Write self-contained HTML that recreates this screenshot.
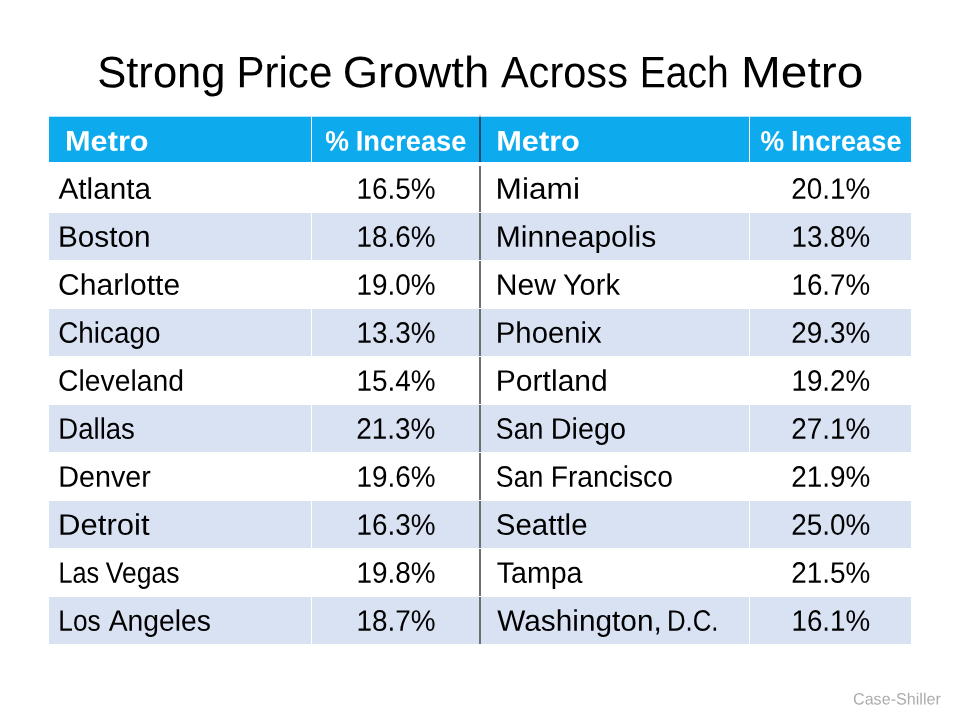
<!DOCTYPE html>
<html><head><meta charset="utf-8"><title>Strong Price Growth Across Each Metro</title>
<style>
html,body{margin:0;padding:0;background:#fff;}
body{width:960px;height:720px;position:relative;overflow:hidden;font-family:"Liberation Sans",sans-serif;}
.L{position:absolute;left:0;top:0;width:960px;height:720px;will-change:transform;}
.t{position:absolute;left:0;top:0;white-space:nowrap;transform-origin:0 0;display:block;text-rendering:geometricPrecision;}
.hd{position:absolute;left:49.0px;top:117.0px;width:862.0px;height:45.0px;background:#0eaaee;}
.r{position:absolute;left:49.0px;width:862.0px;height:47px;background:#d9e2f3;}
.vw{position:absolute;top:117.0px;width:1px;height:527.0px;background:#fff;}
.vd{position:absolute;left:479px;width:2px;background:#6e6e6e;}
.hw{position:absolute;left:49.0px;width:862.0px;height:1px;background:#fff;}
</style></head><body>
<div class="hd"></div>
<div style="position:absolute;left:49.0px;top:116px;width:862.0px;height:1px;background:#b7e6fa"></div>
<div class="r" style="top:213px"></div>
<div class="r" style="top:309px"></div>
<div class="r" style="top:405px"></div>
<div class="r" style="top:501px"></div>
<div class="r" style="top:597px"></div>
<div class="vw" style="left:311px"></div>
<div class="vw" style="left:749px"></div>
<div class="vd" style="top:115px;height:2px;background:#c4c4c4"></div>
<div class="vd" style="top:117px;height:45px;background:#084e6e"></div>
<div class="vd" style="top:166px;height:478px"></div>
<div class="hw" style="top:212px"></div>
<div class="hw" style="top:260px"></div>
<div class="hw" style="top:308px"></div>
<div class="hw" style="top:356px"></div>
<div class="hw" style="top:404px"></div>
<div class="hw" style="top:452px"></div>
<div class="hw" style="top:500px"></div>
<div class="hw" style="top:548px"></div>
<div class="hw" style="top:596px"></div>
<div class="L">
<span class="t" style="font-size:44.0px;line-height:44.0px;color:#000;transform:matrix(0.9905,.0006,0,1,97.19,51.25)">Strong</span>
<span class="t" style="font-size:44.0px;line-height:44.0px;color:#000;transform:matrix(0.9556,.0006,0,1,236.47,51.25)">Price</span>
<span class="t" style="font-size:44.0px;line-height:44.0px;color:#000;transform:matrix(1.0331,.0006,0,1,342.65,51.25)">Growth</span>
<span class="t" style="font-size:44.0px;line-height:44.0px;color:#000;transform:matrix(0.9447,.0006,0,1,500.89,51.25)">Across</span>
<span class="t" style="font-size:44.0px;line-height:44.0px;color:#000;transform:matrix(0.8879,.0006,0,1,639.69,51.25)">Each</span>
<span class="t" style="font-size:44.0px;line-height:44.0px;color:#000;transform:matrix(1.0881,.0006,0,1,740.99,51.25)">Metro</span>
<span class="t" style="font-size:28.2px;line-height:28.2px;font-weight:700;color:#fff;transform:matrix(1.0901,.0006,0,1,64.99,126.62)">Metro</span>
<span class="t" style="font-size:28.2px;line-height:28.2px;font-weight:700;color:#fff;transform:matrix(0.9466,.0006,0,1,325.35,126.62)">%</span>
<span class="t" style="font-size:28.2px;line-height:28.2px;font-weight:700;color:#fff;transform:matrix(0.9678,.0006,0,1,355.73,126.62)">Increase</span>
<span class="t" style="font-size:28.2px;line-height:28.2px;font-weight:700;color:#fff;transform:matrix(1.0921,.0006,0,1,496.13,126.62)">Metro</span>
<span class="t" style="font-size:28.2px;line-height:28.2px;font-weight:700;color:#fff;transform:matrix(0.9443,.0006,0,1,760.40,126.62)">%</span>
<span class="t" style="font-size:28.2px;line-height:28.2px;font-weight:700;color:#fff;transform:matrix(0.9671,.0006,0,1,790.90,126.62)">Increase</span>
<span class="t" style="font-size:29.6px;line-height:29.6px;color:#000;transform:matrix(1.0036,.0006,0,1,58.53,174.74)">Atlanta</span>
<span class="t" style="font-size:29.6px;line-height:29.6px;color:#000;transform:matrix(1.0056,.0006,0,1,57.96,222.75)">Boston</span>
<span class="t" style="font-size:29.6px;line-height:29.6px;color:#000;transform:matrix(1.0167,.0006,0,1,58.04,270.74)">Charlotte</span>
<span class="t" style="font-size:29.6px;line-height:29.6px;color:#000;transform:matrix(0.9425,.0006,0,1,58.15,318.75)">Chicago</span>
<span class="t" style="font-size:29.6px;line-height:29.6px;color:#000;transform:matrix(0.9574,.0006,0,1,58.09,366.74)">Cleveland</span>
<span class="t" style="font-size:29.6px;line-height:29.6px;color:#000;transform:matrix(0.9307,.0006,0,1,58.34,414.75)">Dallas</span>
<span class="t" style="font-size:29.6px;line-height:29.6px;color:#000;transform:matrix(0.9716,.0006,0,1,58.25,462.74)">Denver</span>
<span class="t" style="font-size:29.6px;line-height:29.6px;color:#000;transform:matrix(1.0505,.0006,0,1,58.01,510.75)">Detroit</span>
<span class="t" style="font-size:29.6px;line-height:29.6px;color:#000;transform:matrix(0.8526,.0006,0,1,58.40,558.74)">Las</span>
<span class="t" style="font-size:29.6px;line-height:29.6px;color:#000;transform:matrix(0.8965,.0006,0,1,105.72,558.74)">Vegas</span>
<span class="t" style="font-size:29.6px;line-height:29.6px;color:#000;transform:matrix(0.8864,.0006,0,1,58.30,606.75)">Los</span>
<span class="t" style="font-size:29.6px;line-height:29.6px;color:#000;transform:matrix(0.9572,.0006,0,1,108.65,606.75)">Angeles</span>
<span class="t" style="font-size:29.6px;line-height:29.6px;color:#000;transform:matrix(0.9427,.0006,0,1,356.43,174.74)">16.5%</span>
<span class="t" style="font-size:29.6px;line-height:29.6px;color:#000;transform:matrix(0.9426,.0006,0,1,356.43,222.75)">18.6%</span>
<span class="t" style="font-size:29.6px;line-height:29.6px;color:#000;transform:matrix(0.9427,.0006,0,1,356.43,270.74)">19.0%</span>
<span class="t" style="font-size:29.6px;line-height:29.6px;color:#000;transform:matrix(0.9426,.0006,0,1,356.43,318.75)">13.3%</span>
<span class="t" style="font-size:29.6px;line-height:29.6px;color:#000;transform:matrix(0.9427,.0006,0,1,356.43,366.74)">15.4%</span>
<span class="t" style="font-size:29.6px;line-height:29.6px;color:#000;transform:matrix(0.9436,.0006,0,1,356.23,414.75)">21.3%</span>
<span class="t" style="font-size:29.6px;line-height:29.6px;color:#000;transform:matrix(0.9427,.0006,0,1,356.43,462.74)">19.6%</span>
<span class="t" style="font-size:29.6px;line-height:29.6px;color:#000;transform:matrix(0.9426,.0006,0,1,356.43,510.75)">16.3%</span>
<span class="t" style="font-size:29.6px;line-height:29.6px;color:#000;transform:matrix(0.9427,.0006,0,1,356.43,558.74)">19.8%</span>
<span class="t" style="font-size:29.6px;line-height:29.6px;color:#000;transform:matrix(0.9426,.0006,0,1,356.43,606.75)">18.7%</span>
<span class="t" style="font-size:29.6px;line-height:29.6px;color:#000;transform:matrix(1.0681,.0006,0,1,495.62,174.74)">Miami</span>
<span class="t" style="font-size:29.6px;line-height:29.6px;color:#000;transform:matrix(1.0157,.0006,0,1,495.81,222.75)">Minneapolis</span>
<span class="t" style="font-size:29.6px;line-height:29.6px;color:#000;transform:matrix(1.0186,.0006,0,1,495.80,270.74)">New</span>
<span class="t" style="font-size:29.6px;line-height:29.6px;color:#000;transform:matrix(0.9788,.0006,0,1,562.96,270.74)">York</span>
<span class="t" style="font-size:29.6px;line-height:29.6px;color:#000;transform:matrix(0.9889,.0006,0,1,495.84,318.75)">Phoenix</span>
<span class="t" style="font-size:29.6px;line-height:29.6px;color:#000;transform:matrix(1.0160,.0006,0,1,495.82,366.74)">Portland</span>
<span class="t" style="font-size:29.6px;line-height:29.6px;color:#000;transform:matrix(0.9015,.0006,0,1,495.85,414.75)">San</span>
<span class="t" style="font-size:29.6px;line-height:29.6px;color:#000;transform:matrix(0.9734,.0006,0,1,550.73,414.75)">Diego</span>
<span class="t" style="font-size:29.6px;line-height:29.6px;color:#000;transform:matrix(0.9016,.0006,0,1,495.85,462.74)">San</span>
<span class="t" style="font-size:29.6px;line-height:29.6px;color:#000;transform:matrix(0.9527,.0006,0,1,550.66,462.74)">Francisco</span>
<span class="t" style="font-size:29.6px;line-height:29.6px;color:#000;transform:matrix(0.9969,.0006,0,1,495.73,510.75)">Seattle</span>
<span class="t" style="font-size:29.6px;line-height:29.6px;color:#000;transform:matrix(0.9655,.0006,0,1,496.73,558.74)">Tampa</span>
<span class="t" style="font-size:29.6px;line-height:29.6px;color:#000;transform:matrix(1.0071,.0006,0,1,497.20,606.75)">Washington,</span>
<span class="t" style="font-size:29.6px;line-height:29.6px;color:#000;transform:matrix(0.8712,.0006,0,1,666.92,606.75)">D.C.</span>
<span class="t" style="font-size:29.6px;line-height:29.6px;color:#000;transform:matrix(0.9422,.0006,0,1,791.25,174.74)">20.1%</span>
<span class="t" style="font-size:29.6px;line-height:29.6px;color:#000;transform:matrix(0.9384,.0006,0,1,791.46,222.75)">13.8%</span>
<span class="t" style="font-size:29.6px;line-height:29.6px;color:#000;transform:matrix(0.9385,.0006,0,1,791.45,270.74)">16.7%</span>
<span class="t" style="font-size:29.6px;line-height:29.6px;color:#000;transform:matrix(0.9421,.0006,0,1,791.25,318.75)">29.3%</span>
<span class="t" style="font-size:29.6px;line-height:29.6px;color:#000;transform:matrix(0.9385,.0006,0,1,791.45,366.74)">19.2%</span>
<span class="t" style="font-size:29.6px;line-height:29.6px;color:#000;transform:matrix(0.9421,.0006,0,1,791.25,414.75)">27.1%</span>
<span class="t" style="font-size:29.6px;line-height:29.6px;color:#000;transform:matrix(0.9422,.0006,0,1,791.25,462.74)">21.9%</span>
<span class="t" style="font-size:29.6px;line-height:29.6px;color:#000;transform:matrix(0.9421,.0006,0,1,791.25,510.75)">25.0%</span>
<span class="t" style="font-size:29.6px;line-height:29.6px;color:#000;transform:matrix(0.9422,.0006,0,1,791.25,558.74)">21.5%</span>
<span class="t" style="font-size:29.6px;line-height:29.6px;color:#000;transform:matrix(0.9384,.0006,0,1,791.46,606.75)">16.1%</span>
<span class="t" style="font-size:16.4px;line-height:16.4px;color:#adadad;transform:matrix(0.9835,.0006,0,1,853.01,691.38)">Case-Shiller</span>
</div>
</body></html>
